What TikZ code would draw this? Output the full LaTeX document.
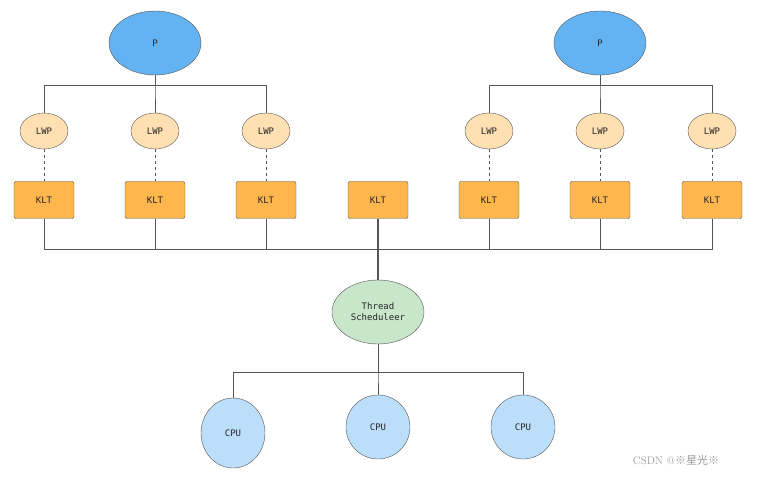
\documentclass[tikz,border=0pt]{standalone}
\usepackage{fontspec}
\setmonofont{DejaVu Sans Mono}
\newfontfamily\cjk{Noto Sans CJK SC}
\usetikzlibrary{shapes.geometric, positioning}
\definecolor{procblue}{HTML}{63B3F2}
\definecolor{lwporange}{HTML}{FFE0B2}
\definecolor{kltorange}{HTML}{FFB74D}
\definecolor{schedgreen}{HTML}{C8E6C9}
\definecolor{cpublue}{HTML}{BBDEFB}
\definecolor{linegray}{HTML}{555555}
\begin{document}
\begin{tikzpicture}[
    x=1pt, y=-1pt,
    every node/.style={font=\ttfamily\fontsize{9}{11}\selectfont, text=black!85},
    proc/.style={ellipse, draw=linegray, fill=procblue, minimum width=92pt, minimum height=64pt, inner sep=0pt},
    lwp/.style={ellipse, draw=linegray, fill=lwporange, minimum width=48pt, minimum height=36pt, inner sep=0pt},
    klt/.style={rectangle, draw=linegray, fill=kltorange, rounded corners=2pt, minimum width=60pt, minimum height=37pt},
    sched/.style={ellipse, draw=linegray, fill=schedgreen, minimum width=92pt, minimum height=64pt, align=center, inner sep=0pt},
    cpu/.style={ellipse, draw=linegray, fill=cpublue, minimum width=64pt, minimum height=64pt, inner sep=0pt},
    wire/.style={draw=linegray, line width=0.8pt}
]
\useasboundingbox (0,0) rectangle (758,478);

% Processes
\node[proc] (p1) at (155,43) {P};
\node[proc] (p2) at (600,43) {P};

% LWPs and KLTs
\foreach \i/\x in {1/44,2/155,3/266,4/489,5/600,6/712}
    \node[lwp] (lwp\i) at (\x,131) {LWP};
\foreach \i/\x in {1/44,2/155,3/266,4/378,5/489,6/600,7/712}
    \node[klt] (klt\i) at (\x,200) {KLT};

% Scheduler and CPUs
\node[sched] (sched) at (378,312) {Thread\\Scheduleer};
\node[cpu, minimum height=70pt] (cpu1) at (233,433) {CPU};
\node[cpu] (cpu2) at (378,427) {CPU};
\node[cpu] (cpu3) at (523,427) {CPU};

% Process to LWP
\foreach \i in {1,2,3}
    \draw[wire] (p1.south) -- ++(0,10) -| (lwp\i.north);
\foreach \i in {4,5,6}
    \draw[wire] (p2.south) -- ++(0,10) -| (lwp\i.north);

% LWP to KLT
\foreach \i/\j in {1/1,2/2,3/3,4/5,5/6,6/7}
    \draw[wire, dashed] (lwp\i) -- (klt\j);

% KLT to scheduler
\foreach \j in {1,2,3,5,6,7}
    \draw[wire] (klt\j.south) |- (378,249) -- (sched.north);
\draw[wire, line width=1.4pt] (klt4.south) -- (sched.north);

% Scheduler to CPUs
\foreach \k in {1,2,3}
    \draw[wire] (sched.south) |- (378,372) -| (cpu\k.north);

\node[font=\fontsize{11}{13}\selectfont, text=black!40] (mark) at (676,460) {CSDN @{\cjk ※星光※}};
\end{tikzpicture}
\end{document}
